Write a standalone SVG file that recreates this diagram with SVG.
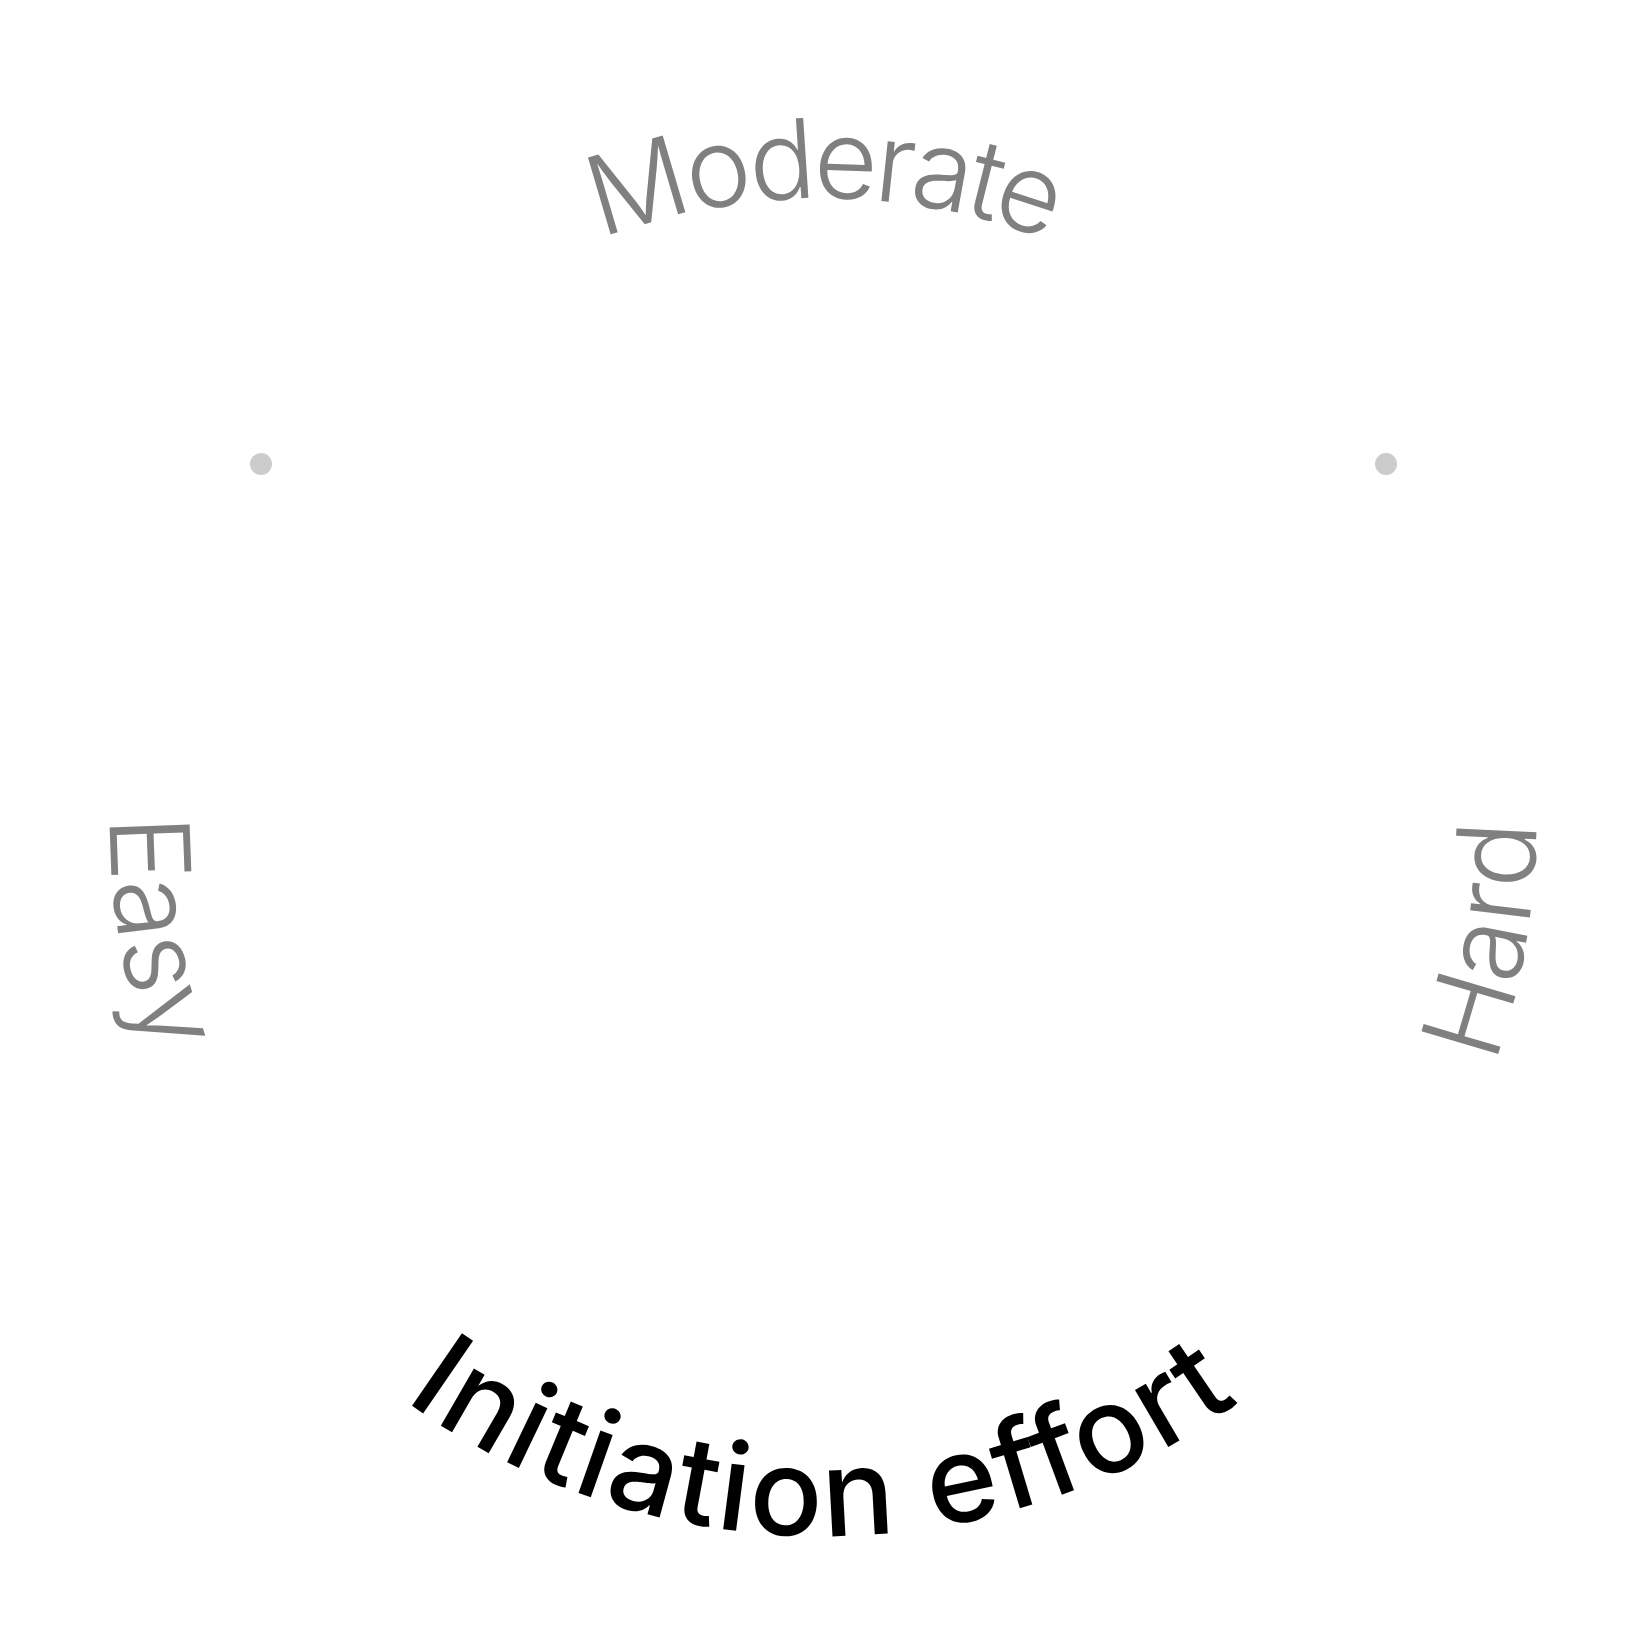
<svg xmlns="http://www.w3.org/2000/svg" xmlns:xlink="http://www.w3.org/1999/xlink" width="1645" height="1646" viewBox="0 0 1645 1646">
<style>
.lbl{font-family:Inter,"Liberation Sans",sans-serif;font-weight:300;font-size:110px;fill:#808080}
.title{font-family:Inter,"Liberation Sans",sans-serif;font-weight:500;font-size:121px;fill:#000;letter-spacing:3px}
.dot{fill:#cccccc}
</style>
<defs>
<path id="ccw" d="M 110,823 A 713 713 0 0 0 1536,823 A 713 713 0 0 0 110,823"/>
<path id="cw" d="M 198,823 A 625 625 0 0 1 1448,823"/>
</defs>
<rect width="1645" height="1646" fill="#fff"/>
<g id="dots">
<circle class="dot" cx="261" cy="464" r="11"/>
<circle class="dot" cx="1386" cy="464" r="11"/>
</g>
<g id="moderate"><text class="lbl" text-anchor="middle" letter-spacing="-4.5"><textPath xlink:href="#cw" href="#cw" startOffset="50%">Moderate</textPath></text></g>
<g id="easy"><text class="lbl" text-anchor="start"><textPath xlink:href="#ccw" href="#ccw" startOffset="-6">Easy</textPath></text></g>
<g id="hard"><text class="lbl" text-anchor="end"><textPath xlink:href="#ccw" href="#ccw" startOffset="50%">Hard</textPath></text></g>
<g id="title"><text class="title" text-anchor="middle"><textPath xlink:href="#ccw" href="#ccw" startOffset="25%">Initiation effort</textPath></text></g>
</svg>
